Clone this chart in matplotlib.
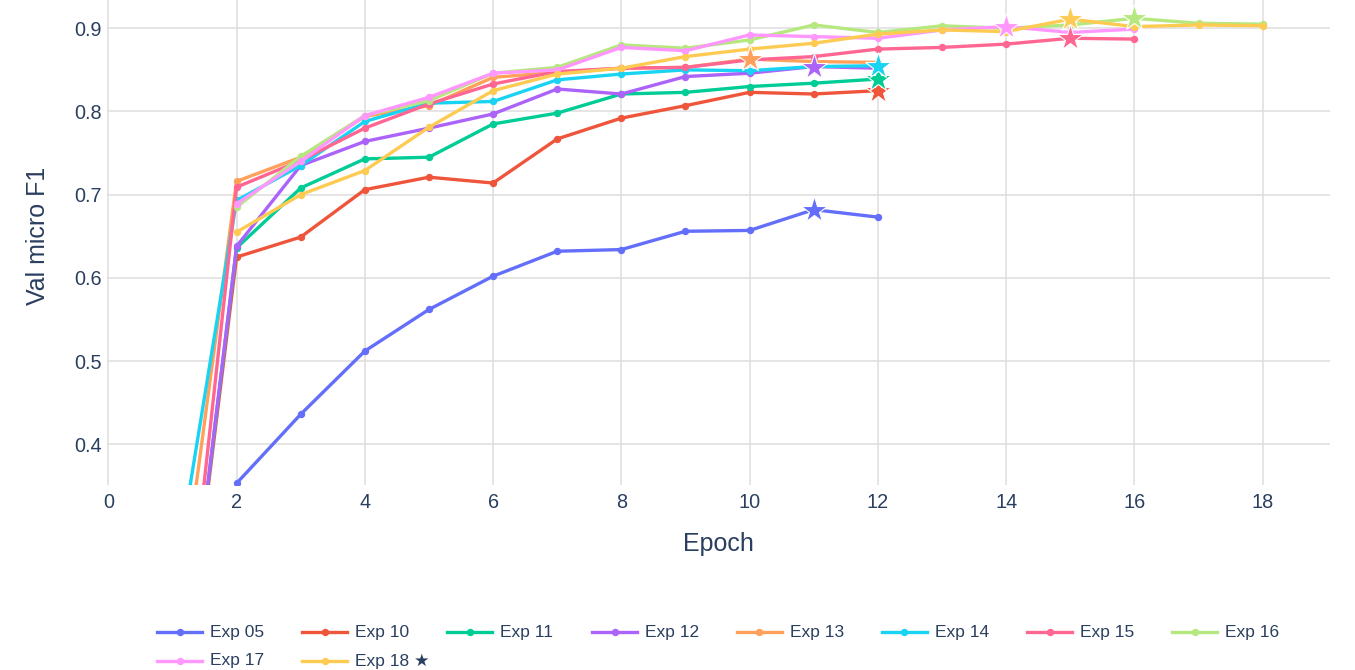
import matplotlib
matplotlib.use("Agg")
import matplotlib.pyplot as plt
from matplotlib.lines import Line2D

plt.rcParams['font.family'] = ['Liberation Sans', 'DejaVu Sans']

# figure size in pixels
W, H = 1355, 670
TEXT = '#2a3f5f'

names = ['Exp 05', 'Exp 10', 'Exp 11', 'Exp 12', 'Exp 13',
         'Exp 14', 'Exp 15', 'Exp 16', 'Exp 17', 'Exp 18']
colors = ['#636EFA', '#EF553B', '#00CC96', '#AB63FA', '#FFA15A',
          '#19D3F3', '#FF6692', '#B6E880', '#FF97FF', '#FECB52']
best_exp = 'Exp 18'

# values
exp05_epochs = list(range(1, 13))
exp05_f1 = [0.0, 0.353, 0.436, 0.512, 0.562, 0.602, 0.632, 0.634, 0.656, 0.657, 0.682, 0.673]
exp10_epochs = list(range(1, 13))
exp10_f1 = [0.0, 0.625, 0.649, 0.706, 0.721, 0.714, 0.767, 0.792, 0.807, 0.823, 0.821, 0.825]
exp11_epochs = list(range(1, 13))
exp11_f1 = [0.0, 0.636, 0.708, 0.743, 0.745, 0.785, 0.798, 0.821, 0.823, 0.830, 0.834, 0.839]
exp12_epochs = list(range(1, 13))
exp12_f1 = [0.0, 0.638, 0.735, 0.764, 0.780, 0.797, 0.827, 0.821, 0.842, 0.846, 0.854, 0.852]
exp13_epochs = list(range(1, 13))
exp13_f1 = [0.136, 0.716, 0.745, 0.794, 0.807, 0.841, 0.847, 0.852, 0.853, 0.863, 0.860, 0.859]
exp14_epochs = list(range(1, 13))
exp14_f1 = [0.220, 0.693, 0.735, 0.788, 0.810, 0.812, 0.838, 0.845, 0.850, 0.849, 0.854, 0.855]
exp15_epochs = list(range(1, 17))
exp15_f1 = [0.005, 0.709, 0.741, 0.780, 0.809, 0.833, 0.848, 0.852, 0.853, 0.862, 0.866,
            0.875, 0.877, 0.881, 0.888, 0.887]
exp16_epochs = list(range(2, 19))
exp16_f1 = [0.685, 0.746, 0.795, 0.813, 0.846, 0.853, 0.880, 0.876, 0.886, 0.904, 0.895,
            0.903, 0.900, 0.904, 0.912, 0.906, 0.905]
exp17_epochs = list(range(2, 17))
exp17_f1 = [0.689, 0.740, 0.795, 0.817, 0.846, 0.850, 0.877, 0.873, 0.892, 0.890, 0.888,
            0.898, 0.902, 0.895, 0.899]
exp18_epochs = list(range(2, 19))
exp18_f1 = [0.655, 0.700, 0.729, 0.781, 0.825, 0.845, 0.852, 0.866, 0.875, 0.882, 0.893,
            0.898, 0.896, 0.911, 0.902, 0.904, 0.903]

series = [(exp05_epochs, exp05_f1), (exp10_epochs, exp10_f1), (exp11_epochs, exp11_f1),
          (exp12_epochs, exp12_f1), (exp13_epochs, exp13_f1), (exp14_epochs, exp14_f1),
          (exp15_epochs, exp15_f1), (exp16_epochs, exp16_f1), (exp17_epochs, exp17_f1),
          (exp18_epochs, exp18_f1)]

fig = plt.figure(figsize=(W / 100, H / 100), dpi=100)
ax = fig.add_axes([107 / W, 1 - 485 / H, (1330 - 107) / W, 485 / H])

for (ep, f1), c in zip(series, colors):
    ax.plot(ep, f1, color=c, lw=2.4, marker='o', ms=4.3, zorder=3)
# stars at the best epoch of each run, drawn over all lines
for (ep, f1), c in zip(series, colors):
    i = max(range(len(f1)), key=lambda k: f1[k])
    ax.plot(ep[i], f1[i], marker='*', ms=20, color=c, mec='white', mew=0.8, zorder=5)

ax.set_xlim(-0.02, 19.05)
ax.set_ylim(0.351, 0.934)
ax.set_xticks(range(0, 19, 2))
ax.set_yticks([0.4, 0.5, 0.6, 0.7, 0.8, 0.9])
ax.set_yticklabels(['0.4', '0.5', '0.6', '0.7', '0.8', '0.9'])
ax.grid(True, color='#DEDEDE', lw=1.1, zorder=0)
for s in ax.spines.values():
    s.set_visible(False)
ax.tick_params(length=0, labelsize=14.3, labelcolor=TEXT)
ax.tick_params(axis='y', pad=4)
ax.tick_params(axis='x', pad=6)
ax.set_xlabel('Epoch', fontsize=18, color=TEXT, labelpad=14)
ax.set_ylabel('Val micro F1', fontsize=18, color=TEXT)
ax.yaxis.set_label_coords(-0.047, 0.513)

# horizontal legend below the plot, 8 entries per row
for k, (name, c) in enumerate(zip(names, colors)):
    col, row = k % 8, k // 8
    x0 = 157 + 145 * col
    y0 = 632 + 29 * row
    fig.add_artist(Line2D([x0 / W, (x0 + 45) / W], [1 - y0 / H, 1 - y0 / H],
                          color=c, lw=2.4))
    fig.add_artist(Line2D([(x0 + 22.5) / W], [1 - y0 / H], color=c,
                          marker='o', ms=4.3))
    label = name + ' \u2605' if name == best_exp else name
    fig.text((x0 + 53) / W, 1 - y0 / H, label, fontsize=12.5, color=TEXT,
             va='center', ha='left')

fig.savefig('out.png', dpi=100)
